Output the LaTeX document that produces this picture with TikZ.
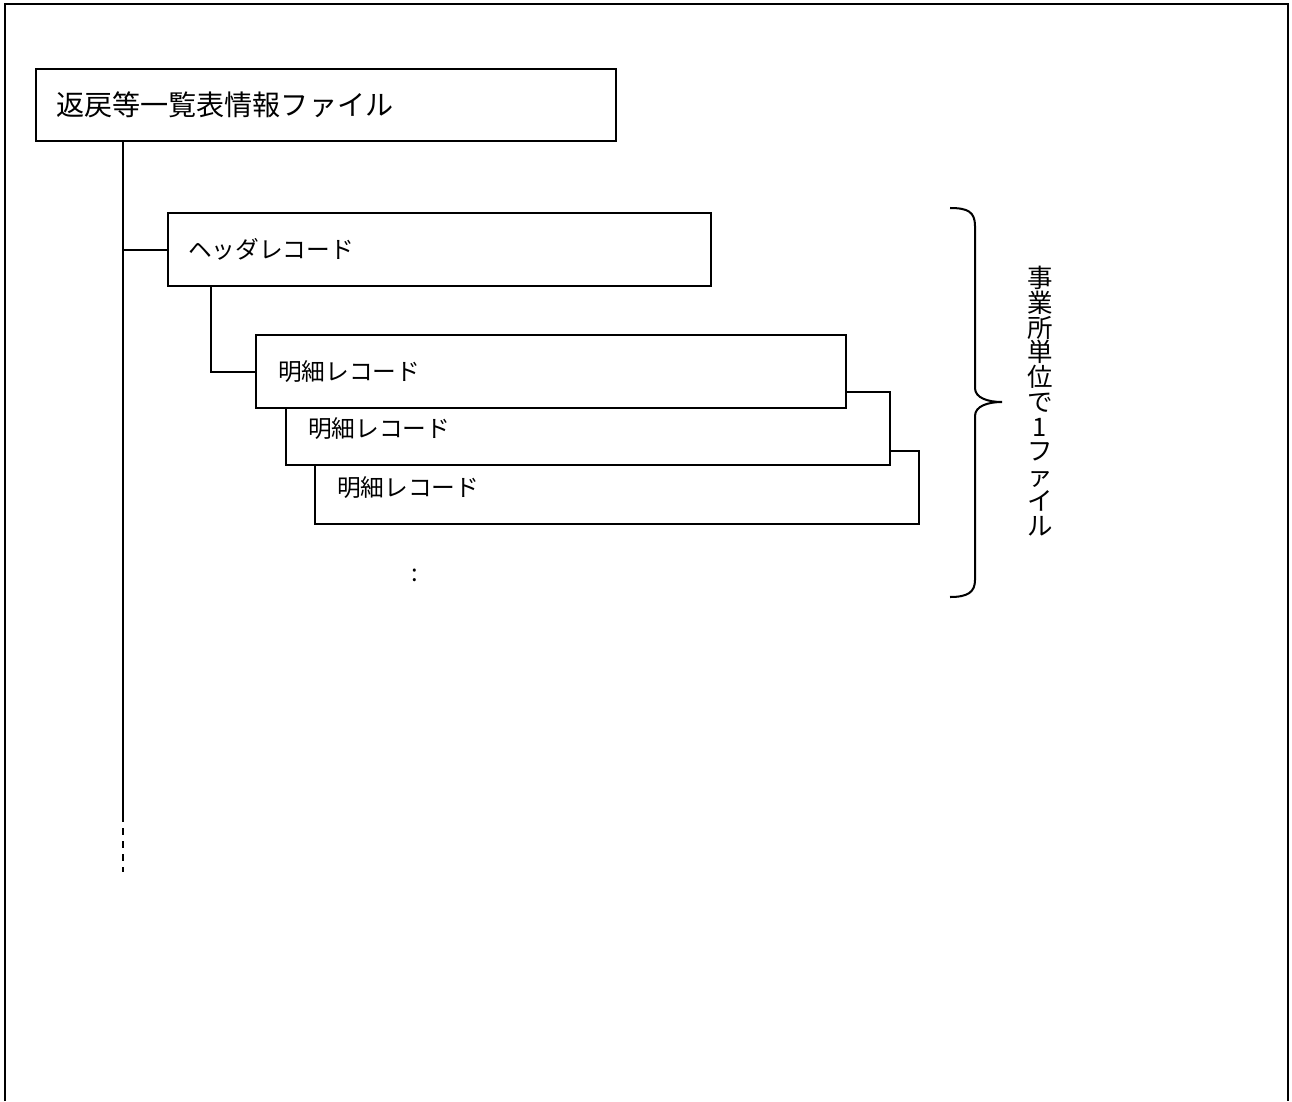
\documentclass[tikz,border=0pt]{standalone}
\usepackage{fontspec}
\usepackage{tikz}
\usetikzlibrary{calc}
\newfontfamily\jpfont{Noto Sans CJK JP}
\tikzset{
  rahmen/.style={draw=black,line width=1.15pt},
  satz/.style={draw=black,fill=white,line width=1.15pt,anchor=north west,inner xsep=4.4mm,inner ysep=0pt,minimum height=14.6mm,align=left,font=\jpfont\fontsize{13.5pt}{16pt}\selectfont},
  verb/.style={black,line width=1.15pt},
  verbd/.style={black,line width=1.15pt,dash pattern=on 1.4mm off 1.2mm},
}

\begin{document}
\begin{tikzpicture}[x=0.2mm,y=-0.2mm]
  \useasboundingbox (0,0) rectangle (1292,1101);
  \fill[white] (0,0) rectangle (1292,1101);
  \draw[rahmen] (5,1101) -- (5,4) -- (1288,4) -- (1288,1101);
  % Datei
  \node[satz,inner xsep=4mm,text width=108mm,minimum height=14.4mm,font=\jpfont\fontsize{16pt}{19pt}\selectfont] (datei) at (35,68) {返戻等一覧表情報ファイル};
  % Saetze
  \node[satz,inner xsep=4mm,text width=100.6mm] (kopf) at (167,212) {ヘッダレコード};
  \node[satz,text width=112mm] (meisai3) at (314,450) {明細レコード};
  \node[satz,text width=112mm] (meisai2) at (285,391) {明細レコード};
  \node[satz,text width=109.2mm] (meisai1) at (255,334) {明細レコード};
  \node[font=\jpfont\fontsize{13.5pt}{16pt}\selectfont] (weiter) at (415,575) {:};
  % Stamm
  \coordinate (stamm) at ($(datei.south west)+(88,0)$);
  \coordinate (stammende) at (123,815);
  \coordinate (stammfuss) at (123,872);
  \draw[verb] (stamm) -- (stammende);
  \draw[verbd] (stammende) -- (stammfuss);
  \draw[verb] (stamm |- kopf.west) -- (kopf.west);
  \draw[verb] ($(kopf.south west)+(44,0)$) |- (meisai1.west);
  % Klammer
  \draw[verb] (950,208) .. controls (968,208) and (975,212) .. (975,226) -- (975,388)
    .. controls (975,398) and (988,402) .. (1002,402)
    .. controls (988,402) and (975,406) .. (975,416) -- (975,580)
    .. controls (975,592) and (968,597) .. (950,597);
  \node[align=center,inner sep=0pt,font=\jpfont\fontsize{14.5pt}{4.95mm}\selectfont] (einheit) at (1040,401)
    {事\\業\\所\\単\\位\\で\\1\\フ\\ァ\\イ\\ル};
\end{tikzpicture}
\end{document}
